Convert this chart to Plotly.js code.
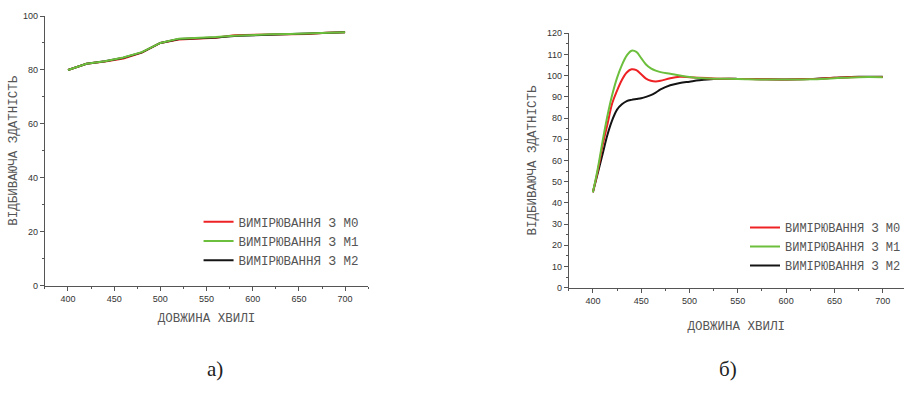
<!DOCTYPE html>
<html>
<head>
<meta charset="utf-8">
<script src="https://cdn.plot.ly/plotly-3.0.1.min.js"></script>
<style>html,body{margin:0;padding:0;background:#fff;}#chart{width:906px;height:396px;}</style>
</head>
<body>
<div id="chart"></div>
<script>
// Chart а)
const xA = [400, 420, 440, 460, 480, 500, 520, 540, 560, 580, 600, 620, 640, 660, 680, 700];
const a_M0 = [80, 82.3, 83.1, 84.2, 86.4, 90, 91.3, 91.6, 91.9, 92.9, 92.9, 93.1, 93.2, 93.3, 93.8, 94];
const a_M1 = [80, 82.3, 83.2, 84.6, 86.6, 90, 91.6, 91.8, 92.2, 92.7, 93.0, 93.2, 93.3, 93.6, 93.8, 94];
const a_M2 = [80, 82.3, 83.2, 84.5, 86.5, 90, 91.5, 91.7, 92.0, 92.6, 92.8, 93.0, 93.3, 93.5, 93.8, 94];

// Chart б)
const xB = [400, 405, 410, 415, 420, 425, 430, 435, 440, 445, 450, 455, 460, 465, 470, 480, 490, 500, 510, 525, 550, 575, 600, 625, 650, 675, 700];
const b_M0 = [45, 55, 67, 77, 87, 93, 98, 101.5, 103, 102.6, 100.7, 98.6, 97.6, 97.3, 97.6, 98.8, 99.5, 99.3, 99.0, 98.7, 98.5, 98.3, 98.2, 98.4, 99.0, 99.4, 99.4];
const b_M1 = [45, 56, 69, 81, 91, 99, 105, 109.5, 111.8, 111.2, 108.3, 105.3, 103.5, 102.4, 101.7, 100.9, 100.1, 99.4, 98.9, 98.6, 98.5, 98.2, 98.2, 98.3, 98.8, 99.3, 99.3];
const b_M2 = [45, 54, 63, 72, 79, 84, 86.5, 88, 88.6, 89.0, 89.4, 90.0, 90.8, 92.0, 93.5, 95.5, 96.6, 97.2, 97.8, 98.4, 98.5, 98.3, 98.2, 98.4, 99.0, 99.5, 99.5];

const names = ['ВИМІРЮВАННЯ З М0', 'ВИМІРЮВАННЯ З М1', 'ВИМІРЮВАННЯ З М2'];
const colors = ['#ee2224', '#6cbf3c', '#141414'];
const xTitle = 'ДОВЖИНА ХВИЛІ';
const yTitle = 'ВІДБИВАЮЧА ЗДАТНІСТЬ';
const captions = ['а)', 'б)'];

function tr(x, y, i, xa, ya, lg, spline) {
  return {x: x, y: y, name: names[i], type: 'scatter', mode: 'lines',
    line: {color: colors[i], width: 2, shape: spline ? 'spline' : 'linear'},
    xaxis: xa, yaxis: ya, legend: lg, legendrank: i + 1, showlegend: true};
}

const data = [
  tr(xA, a_M0, 0, 'x', 'y', 'legend', false),
  tr(xA, a_M2, 2, 'x', 'y', 'legend', false),
  tr(xA, a_M1, 1, 'x', 'y', 'legend', false),
  tr(xB, b_M2, 2, 'x2', 'y2', 'legend2', true),
  tr(xB, b_M0, 0, 'x2', 'y2', 'legend2', true),
  tr(xB, b_M1, 1, 'x2', 'y2', 'legend2', true)
];

const tickFont = {family: 'Liberation Sans, Arial, sans-serif', size: 9, color: '#333'};
const titleFont = {family: 'Liberation Mono, Courier New, monospace', size: 12.5, color: '#555'};
const legFont = {family: 'Liberation Mono, Courier New, monospace', size: 12.5, color: '#555'};
const legFont2 = {family: 'Liberation Mono, Courier New, monospace', size: 12, color: '#555'};

function xax(domain, anchor, range, standoff) {
  return {domain: domain, anchor: anchor, range: range, showgrid: false, zeroline: false,
    showline: true, linecolor: '#555', linewidth: 1, ticks: 'outside', ticklen: 4, tickcolor: '#555',
    tickvals: [400, 450, 500, 550, 600, 650, 700], tickfont: tickFont,
    minor: {ticks: 'outside', ticklen: 2, tickcolor: '#555', tickvals: [375, 425, 475, 525, 575, 625, 675, 725]},
    title: {text: xTitle, font: titleFont, standoff: standoff}, fixedrange: true};
}
function yax(domain, anchor, range, dtick, mdt, standoff) {
  return {domain: domain, anchor: anchor, range: range, showgrid: false, zeroline: false,
    showline: true, linecolor: '#555', linewidth: 1, ticks: 'outside', ticklen: 4, tickcolor: '#555',
    dtick: dtick, tick0: 0, tickfont: tickFont,
    minor: {ticks: 'outside', ticklen: 2, tickcolor: '#555', dtick: mdt},
    title: {text: yTitle, font: titleFont, standoff: standoff}, fixedrange: true};
}

const layout = {
  width: 906, height: 396,
  margin: {l: 0, r: 0, t: 0, b: 0},
  paper_bgcolor: '#fff', plot_bgcolor: '#fff',
  xaxis: xax([45/906, 369/906], 'y', [375, 725], 10),
  yaxis: yax([1 - 285.7/396, 1 - 16/396], 'x', [0, 100], 20, 10, 2),
  xaxis2: xax([570/906, 1], 'y2', [375, 722], 16),
  yaxis2: yax([1 - 287.7/396, 1 - 33.3/396], 'x2', [0, 120], 10, 5, 7),
  legend: {x: 199/906, xanchor: 'left', y: 1 - 207/396, yanchor: 'top', bgcolor: 'rgba(0,0,0,0)',
    font: legFont, itemwidth: 30, tracegroupgap: 0},
  legend2: {x: 747/906, xanchor: 'left', y: 1 - 213/396, yanchor: 'top', bgcolor: 'rgba(0,0,0,0)',
    font: legFont2, itemwidth: 30, tracegroupgap: 0},
  annotations: [
    {text: captions[0], x: 205/906, y: 1 - 383/396, xref: 'paper', yref: 'paper', showarrow: false,
      font: {family: 'Liberation Serif, Times New Roman, serif', size: 21, color: '#222'}},
    {text: captions[1], x: 741/906, y: 1 - 383/396, xref: 'paper', yref: 'paper', showarrow: false,
      font: {family: 'Liberation Serif, Times New Roman, serif', size: 21, color: '#222'}}
  ]
};

Plotly.newPlot('chart', data, layout, {displayModeBar: false, staticPlot: true});
</script>
</body>
</html>
